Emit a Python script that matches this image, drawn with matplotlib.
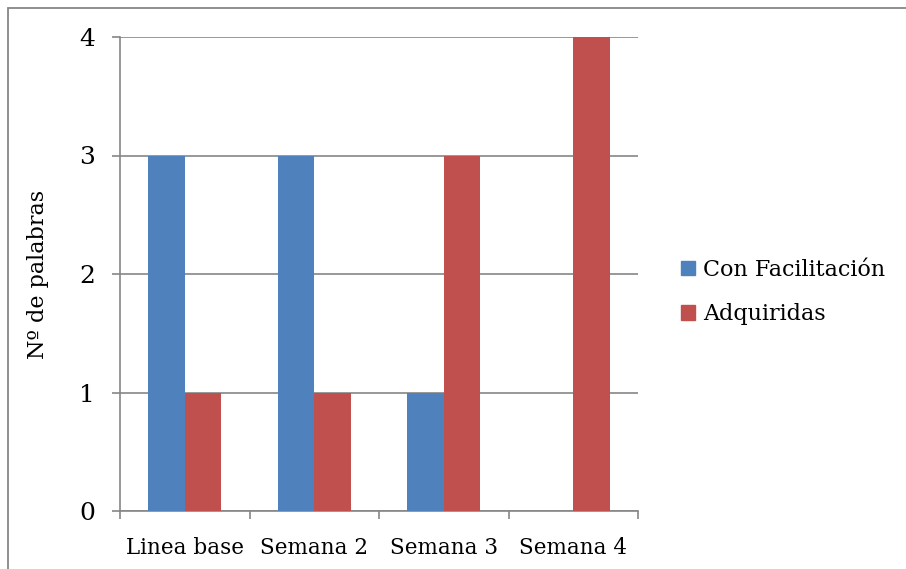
import matplotlib
matplotlib.use("Agg")
import matplotlib.pyplot as plt
from matplotlib.patches import Rectangle, Patch
import numpy as np

categories = ["Linea base", "Semana 2", "Semana 3", "Semana 4"]
con_facilitacion = [3, 3, 1, 0]
adquiridas = [1, 1, 3, 4]
series_names = ["Con Facilitación", "Adquiridas"]

blue = "#4F81BD"
red = "#C0504D"
grid_gray = "#868686"

plt.rcParams["font.family"] = ["DejaVu Serif"]

W, H = 906, 569
fig = plt.figure(figsize=(W / 100, H / 100), dpi=100)

# outer frame of the chart area (runs off the right and bottom edges)
fig.patches.append(Rectangle((8 / W, -0.1), 1.2, (H - 8) / H + 0.1,
                             transform=fig.transFigure, fill=False,
                             edgecolor="#868686", linewidth=1.3))

ax = fig.add_axes([120 / W, 58 / H, (638 - 120) / W, (511 - 37) / H])

x = np.arange(len(categories))
bw = 0.28
ax.bar(x - bw / 2, con_facilitacion, bw, color=blue, zorder=3)
ax.bar(x + bw / 2, adquiridas, bw, color=red, zorder=3)

ax.set_xlim(-0.5, len(categories) - 0.5)
ax.set_ylim(0, 4)
ax.set_yticks([0, 1, 2, 3, 4])
ax.yaxis.grid(True, color=grid_gray, linewidth=1.2, zorder=0)

ax.set_xticks(x)
ax.set_xticklabels(categories)
ax.tick_params(axis="x", length=0, labelsize=15.5, pad=19)
ax.set_xticks(np.arange(len(categories) + 1) - 0.5, minor=True)
ax.tick_params(axis="x", which="minor", length=6, color=grid_gray, width=1.2)
ax.tick_params(axis="y", length=6, color=grid_gray, width=1.2, labelsize=18, pad=12)

for side in ["top", "right"]:
    ax.spines[side].set_visible(False)
for side in ["left", "bottom"]:
    ax.spines[side].set_color(grid_gray)
    ax.spines[side].set_linewidth(1.2)

ax.set_ylabel("Nº de palabras", fontsize=16, labelpad=22)

handles = [Patch(color=blue), Patch(color=red)]
fig.legend(handles, series_names, loc="center left",
           bbox_to_anchor=(661 / W, 1 - 292 / H), frameon=False,
           fontsize=16, handlelength=0.63, handleheight=0.63,
           handletextpad=0.36, labelspacing=1.0)

fig.savefig("out.png", dpi=100)
